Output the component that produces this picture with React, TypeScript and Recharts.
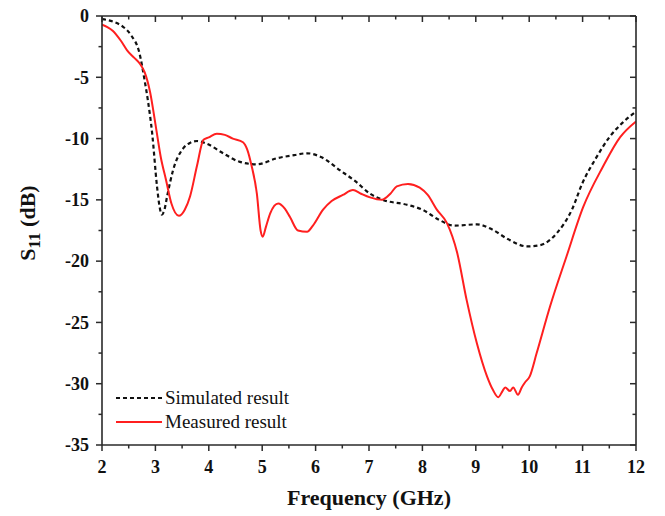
import React from 'react';
import { LineChart, Line, XAxis, YAxis, Legend } from 'recharts';

// simulated S11 (dashed black)
const simFreq = [2.0, 2.2, 2.4, 2.55, 2.7, 2.8, 2.86, 2.94, 3.03, 3.08, 3.12, 3.17, 3.22, 3.33, 3.52, 3.65, 3.78, 3.95, 4.27, 4.58, 4.9, 5.28, 5.6, 5.84, 6.1, 6.46, 6.75, 7.02, 7.26, 7.71, 8.0, 8.3, 8.6, 9.02, 9.3, 9.6, 9.96, 10.2, 10.52, 10.8, 11.0, 11.25, 11.5, 11.75, 12.0];
const simS11 = [-0.25, -0.45, -0.9, -1.6, -3.0, -5.3, -6.9, -9.6, -13.9, -15.6, -16.2, -15.8, -14.7, -12.6, -10.8, -10.35, -10.2, -10.4, -11.2, -11.9, -12.1, -11.6, -11.35, -11.2, -11.5, -12.6, -13.5, -14.5, -15.0, -15.4, -15.8, -16.6, -17.1, -17.0, -17.4, -18.2, -18.8, -18.7, -17.7, -15.8, -13.6, -11.6, -9.9, -8.7, -7.8];

// measured S11 (solid red)
const measFreq = [2.0, 2.1, 2.2, 2.35, 2.47, 2.6, 2.71, 2.8, 2.9, 3.0, 3.1, 3.2, 3.3, 3.44, 3.55, 3.65, 3.78, 3.9, 4.0, 4.15, 4.3, 4.45, 4.64, 4.72, 4.8, 4.9, 4.97, 5.01, 5.07, 5.15, 5.3, 5.42, 5.52, 5.67, 5.84, 5.95, 6.14, 6.3, 6.51, 6.7, 6.85, 7.02, 7.24, 7.4, 7.52, 7.73, 7.95, 8.1, 8.27, 8.46, 8.65, 8.83, 9.02, 9.21, 9.32, 9.42, 9.5, 9.55, 9.64, 9.7, 9.79, 9.86, 9.92, 10.01, 10.14, 10.39, 10.7, 11.01, 11.38, 11.7, 12.0];
const measS11 = [-0.7, -0.9, -1.2, -2.0, -2.8, -3.4, -3.9, -4.6, -6.2, -8.8, -11.5, -13.4, -15.3, -16.3, -15.8, -14.7, -12.2, -10.1, -9.9, -9.6, -9.7, -10.0, -10.3, -10.9, -12.2, -14.5, -17.5, -18.0, -17.2, -16.1, -15.3, -15.7, -16.4, -17.5, -17.6, -17.1, -15.8, -15.1, -14.6, -14.2, -14.5, -14.8, -15.0, -14.5, -13.9, -13.7, -14.0, -14.6, -15.8, -16.9, -19.3, -23.2, -26.7, -29.4, -30.5, -31.1, -30.6, -30.3, -30.6, -30.3, -30.9, -30.3, -29.9, -29.4, -27.5, -23.7, -19.6, -15.6, -12.3, -9.9, -8.6];

const xTicks = [2, 2.5, 3, 3.5, 4, 4.5, 5, 5.5, 6, 6.5, 7, 7.5, 8, 8.5, 9, 9.5, 10, 10.5, 11, 11.5, 12];
const yTicks = [0, -2.5, -5, -7.5, -10, -12.5, -15, -17.5, -20, -22.5, -25, -27.5, -30, -32.5, -35];

const simData = simFreq.map((f, i) => ({ f, v: simS11[i] }));
const measData = measFreq.map((f, i) => ({ f, v: measS11[i] }));

const serif = { fontFamily: 'Liberation Serif, Times New Roman, serif' };
const axisColor = '#2a2a2a';

const makeTick = (side: string) => (props: any) => {
  const { x, y, payload } = props;
  const v = payload.value;
  const horiz = side === 'b' || side === 't';
  const major = horiz ? Number.isInteger(v) : v % 5 === 0;
  const len = major ? 6 : 3.5;
  if (side === 'b') {
    return (
      <g>
        <line x1={x} y1={y} x2={x} y2={y + len} stroke={axisColor} strokeWidth={1.5} />
        {major && (
          <text x={x} y={y + 28} textAnchor="middle" style={serif} fontWeight="bold" fontSize={18} fill="#111">{v}</text>
        )}
      </g>
    );
  }
  if (side === 'l') {
    return (
      <g>
        <line x1={x} y1={y} x2={x - len} y2={y} stroke={axisColor} strokeWidth={1.5} />
        {major && (
          <text x={x - 13} y={y} dy="0.35em" textAnchor="end" style={serif} fontWeight="bold" fontSize={18} fill="#111">{v}</text>
        )}
      </g>
    );
  }
  if (side === 't') {
    return <line x1={x} y1={y} x2={x} y2={y + len} stroke={axisColor} strokeWidth={1.5} />;
  }
  return <line x1={x} y1={y} x2={x - len} y2={y} stroke={axisColor} strokeWidth={1.5} />;
};

const LegendBox = () => (
  <div style={{ ...serif, fontSize: 19, color: '#111', lineHeight: '24px' }}>
    <div style={{ display: 'flex', alignItems: 'center' }}>
      <svg width={49} height={10}>
        <line x1={0} y1={5} x2={46} y2={5} stroke="#111" strokeWidth={2.2} strokeDasharray="4 3" />
      </svg>
      <span>Simulated result</span>
    </div>
    <div style={{ display: 'flex', alignItems: 'center' }}>
      <svg width={49} height={10}>
        <line x1={0} y1={5} x2={46} y2={5} stroke="#ff1f1f" strokeWidth={2.2} />
      </svg>
      <span>Measured result</span>
    </div>
  </div>
);

export default function App() {
  return (
    <div style={{ position: 'absolute', left: 0, top: 0 }}>
      <LineChart width={665} height={516} margin={{ top: 0, right: 0, bottom: 36, left: 0 }}>
        <XAxis
          xAxisId="b"
          type="number"
          dataKey="f"
          domain={[2, 12]}
          ticks={xTicks}
          interval={0}
          allowDataOverflow
          height={35}
          tickSize={0}
          tickMargin={0}
          tickLine={false}
          tick={makeTick('b')}
          axisLine={{ stroke: axisColor, strokeWidth: 1.6 }}
          label={{
            content: () => (
              <text x={369} y={505} textAnchor="middle" style={serif} fontWeight="bold" fontSize={22} fill="#111">Frequency (GHz)</text>
            ),
          }}
        />
        <XAxis
          xAxisId="t"
          orientation="top"
          type="number"
          dataKey="f"
          domain={[2, 12]}
          ticks={xTicks}
          interval={0}
          allowDataOverflow
          height={16}
          tickSize={0}
          tickMargin={0}
          tickLine={false}
          tick={makeTick('t')}
          axisLine={{ stroke: axisColor, strokeWidth: 1.6 }}
        />
        <YAxis
          yAxisId="l"
          type="number"
          domain={[-35, 0]}
          ticks={yTicks}
          interval={0}
          allowDataOverflow
          width={102}
          tickSize={0}
          tickMargin={0}
          tickLine={false}
          tick={makeTick('l')}
          axisLine={{ stroke: axisColor, strokeWidth: 1.6 }}
          label={{
            content: () => (
              <text transform="translate(35, 223) rotate(-90)" textAnchor="middle" style={serif} fontWeight="bold" fontSize={22} fill="#111">
                S<tspan fontSize={17} dy={5}>11</tspan><tspan dy={-5}> (dB)</tspan>
              </text>
            ),
          }}
        />
        <YAxis
          yAxisId="r"
          orientation="right"
          type="number"
          domain={[-35, 0]}
          ticks={yTicks}
          interval={0}
          allowDataOverflow
          width={29}
          tickSize={0}
          tickMargin={0}
          tickLine={false}
          tick={makeTick('r')}
          axisLine={{ stroke: axisColor, strokeWidth: 1.6 }}
        />
        <Legend
          layout="vertical"
          align="center"
          verticalAlign="middle"
          content={() => <LegendBox />}
          wrapperStyle={{ left: 116, top: 386, width: 210 }}
        />
        <Line
          xAxisId="b"
          yAxisId="l"
          data={simData}
          dataKey="v"
          type="monotone"
          stroke="#111"
          strokeWidth={2.2}
          strokeDasharray="4 3"
          dot={false}
          isAnimationActive={false}
        />
        <Line
          xAxisId="b"
          yAxisId="l"
          data={measData}
          dataKey="v"
          type="monotone"
          stroke="#ff1f1f"
          strokeWidth={2}
          dot={false}
          isAnimationActive={false}
        />
      </LineChart>
    </div>
  );
}
